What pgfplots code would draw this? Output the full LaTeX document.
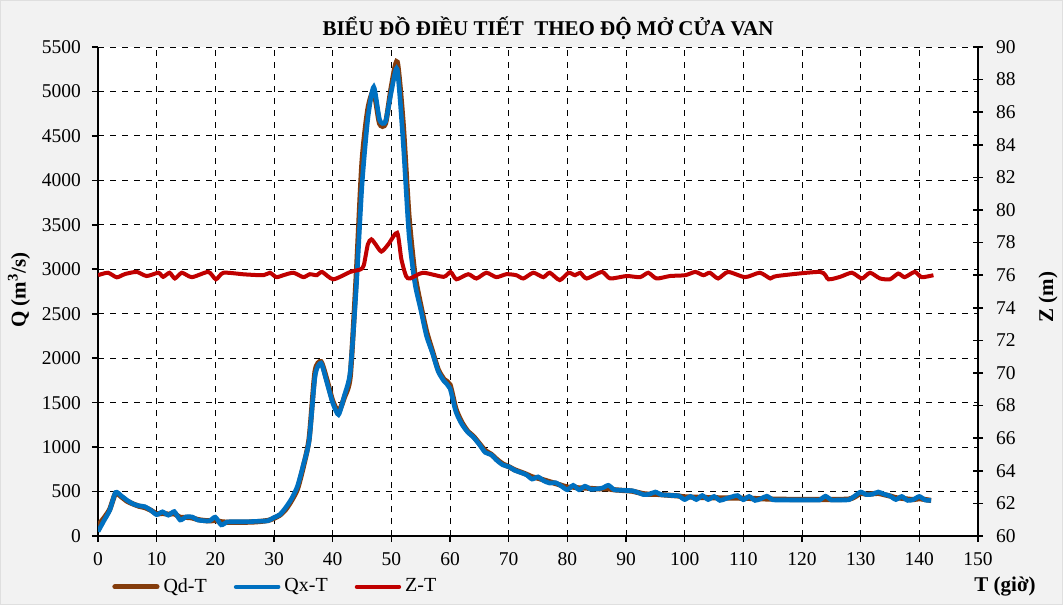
\documentclass[border=0pt]{standalone}
\usepackage{pgfplots}
\pgfplotsset{compat=1.18}
\usepackage{fontspec}
\setmainfont{Liberation Serif}
\definecolor{bg}{HTML}{F2F2F2}
\definecolor{qd}{HTML}{843C0C}
\definecolor{qx}{HTML}{0070C0}
\definecolor{zt}{HTML}{C00000}

\pgfplotstableread{
T Q
0 50
1 170
2 290
3 490
4 450
5 400
6 360
7 340
8 330
9 290
10 240
11 272
12 234
13 275
14 180
15 215
16 215
17 180
18 172
19 170
20 212
21 125
22 158
23 160
24 160
25 160
26 162
27 165
28 168
29 172
30 208
31 240
32 320
33 420
34 560
35 800
36 1080
37 1800
38 1945
39 1730
40 1500
41 1365
42 1580
43 1850
44 2770
45 3950
46 4700
47 5050
48 4680
49 4660
50 5000
51 5250
52 4450
53 3400
54 2850
55 2550
56 2250
57 2060
58 1850
59 1740
60 1660
61 1400
62 1260
63 1170
64 1110
65 1030
66 940
67 915
68 850
69 800
70 780
71 740
72 715
73 690
74 640
75 665
76 620
77 595
78 600
79 560
80 520
81 570
82 520
83 560
84 525
85 530
86 540
87 570
88 520
89 515
90 512
91 510
92 490
93 465
94 470
95 495
96 465
97 460
98 455
99 452
100 410
101 445
102 410
103 455
104 410
105 445
106 400
107 420
108 440
109 455
110 408
111 445
112 400
113 420
114 448
115 408
116 405
118 405
120 405
122 405
123 405
124 448
125 405
126 405
127 405
128 408
129 450
130 495
131 465
132 470
133 495
134 470
135 450
136 410
137 445
138 400
139 410
140 445
141 405
142 400
}\qxdata

\pgfplotstableread{
T Q
0 120
1 200
2 300
3 480
4 440
5 390
6 360
7 335
8 320
9 290
10 250
11 255
12 245
13 250
14 210
15 210
16 205
17 185
18 175
19 170
20 175
21 160
22 155
23 155
25 155
27 160
29 175
30 200
31 235
32 300
33 400
34 530
35 780
36 1100
37 1850
38 1960
39 1760
40 1520
41 1400
42 1560
43 1800
44 2900
45 4200
46 4800
47 5000
48 4640
49 4640
50 5050
51 5330
52 4650
53 3600
54 2950
55 2600
56 2300
57 2080
58 1870
59 1760
60 1700
61 1430
62 1280
63 1180
64 1120
65 1040
66 960
67 920
68 860
69 810
70 780
71 745
72 720
73 695
74 665
75 650
76 630
77 610
78 590
79 570
80 550
81 550
82 540
83 540
84 535
85 530
86 530
87 530
88 520
89 515
90 510
91 505
92 490
93 475
94 470
95 470
96 465
97 460
98 455
99 450
100 440
105 430
110 425
115 415
120 410
125 410
128 415
129 440
130 480
131 470
132 475
133 480
134 465
135 450
136 430
137 425
138 415
139 410
140 420
141 410
142 400
}\qddata

\pgfplotstableread{
T Z
0 76.0
1.7 76.15
3.2 75.87
4.6 76.07
6.6 76.2
8.3 75.95
10.3 76.15
11.1 75.9
12.2 76.15
13.1 75.8
14.3 76.15
16.0 75.88
18.8 76.2
20.1 75.75
21.4 76.15
25 76.05
28.2 76.0
29.3 76.15
30.4 75.88
31.6 76.0
33.3 76.15
35.0 75.88
36.1 76.06
37.3 76.0
38.2 76.2
40.1 75.75
43.0 76.2
44.7 76.35
45.3 76.6
46.0 77.9
46.6 78.2
47.3 77.9
48.3 77.45
49.5 77.9
51.0 78.6
51.7 77.0
52.5 75.95
53.2 75.8
55.4 76.15
58.9 75.9
60.1 76.2
61.1 75.75
63.1 76.06
64.5 75.8
66.2 76.15
67.9 75.88
69.6 76.06
71.3 76.0
72.5 75.8
74.2 76.15
75.9 75.88
77.0 76.15
78.7 75.7
80.2 76.15
81.3 76.0
82.2 76.15
83.3 75.8
85.9 76.2
87.3 75.8
90.1 75.95
92.4 75.88
93.8 76.15
95.2 75.8
97.5 75.95
100.1 76.0
101.8 76.2
103.2 76.0
104.3 76.15
105.7 75.8
107.4 76.2
110.3 75.88
112.8 76.15
114.6 75.8
115.7 75.95
123.1 76.2
124.5 75.75
126.5 75.9
128.5 76.15
130.2 75.8
131.6 76.15
133.3 75.8
135 75.75
136.4 76.1
137.5 75.88
139.2 76.2
140.4 75.88
142.4 76.0
}\ztdata

\pgfplotsset{
  myaxis/.style={
    at={(49pt,34.5pt)}, anchor=south west,
    width=440pt, height=244.5pt, scale only axis,
    xmin=0, xmax=150,
    /pgf/number format/assume math mode=true,
    /pgf/number format/1000 sep={},
    tick label style={font=\fontsize{9.75}{11}\selectfont, black},
    tick style={black, line width=0.8pt},
    major tick length=3pt,
  }
}

\begin{document}
\begin{tikzpicture}
\fill[bg] (0,0) rectangle (531.5pt,302.5pt);
\draw[gray!25, line width=0.5pt] (0.25pt,0.25pt) rectangle (531.25pt,302.25pt);
\useasboundingbox (0,0) rectangle (531.5pt,302.5pt);
\begin{axis}[
  myaxis,
  ymin=0, ymax=5500,
  xtick={0,10,...,150}, ytick={0,500,...,5500},
  axis x line=bottom, axis y line=left,
  axis line style={-, black, line width=0.9pt},
  axis background/.style={fill=white},
  tick align=outside,
  xtick pos=bottom, ytick pos=left,
  grid=major, grid style={dashed, black, line width=0.45pt},
  xticklabel style={yshift=-1.5pt},
  yticklabel style={xshift=-2pt},
  legend columns=3,
  legend style={draw=none, fill=none, at={(0.009,-0.104)}, anchor=west,
    font=\fontsize{10}{11}\selectfont,
    /tikz/every even column/.append style={column sep=11.5pt}},
  legend image code/.code={\draw[#1, line cap=round] (0pt,0pt) -- (21pt,0pt);},
]
\addplot[qd, line width=2.6pt, smooth, tension=0.4] table[x=T,y=Q] {\qddata};
\addlegendentry{Qd-T}
\addplot[qx, line width=2.3pt, smooth, tension=0.4] table[x=T,y=Q] {\qxdata};
\addlegendentry{Qx-T}
\addlegendimage{zt, line width=2.2pt}
\addlegendentry{Z-T}
\end{axis}
\begin{axis}[
  myaxis,
  ymin=60, ymax=90, ytick={60,62,...,90},
  axis y line=right, axis x line=none,
  axis line style={-, black, line width=0.9pt},
  tick align=center, major tick length=5pt,
  yticklabel style={xshift=3pt},
]
\addplot[zt, line width=2pt, smooth, tension=0.4] table[x=T,y=Z] {\ztdata};
\end{axis}
\node[font=\bfseries\fontsize{10.5}{12}\selectfont] at (274pt,288.5pt) {BIỂU ĐỒ ĐIỀU TIẾT\ \ THEO ĐỘ MỞ CỬA VAN};
\node[font=\bfseries\fontsize{10.5}{12}\selectfont, rotate=90] at (9.5pt,157.5pt) {Q (m\textsuperscript{3}/s)};
\node[font=\bfseries\fontsize{10.5}{12}\selectfont, rotate=90] at (524pt,154pt) {Z (m)};
\node[font=\bfseries\fontsize{10.5}{12}\selectfont, anchor=east, inner sep=0pt] at (518pt,9pt) {T (giờ)};
\end{tikzpicture}
\end{document}
